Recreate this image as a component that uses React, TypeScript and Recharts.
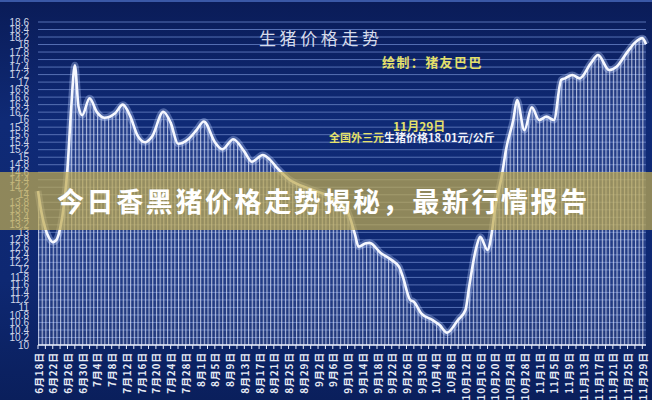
import React from "react";
import {
    ComposedChart,
    Area,
    Line,
    XAxis,
    YAxis,
    CartesianGrid,
} from "recharts";

// day 0 = 6月18日
const days = [
    0, 1, 2, 3, 4, 5, 6, 7, 8, 9, 10, 11, 12, 14, 16, 18, 21, 23, 25, 27, 29, 31, 34, 36, 38,
    41, 43, 45, 48, 50, 53, 56, 58, 61, 63, 65, 68, 74, 79, 84, 86, 87, 89, 90, 93, 96, 98, 99,
    101, 102, 104, 107, 109, 111, 114, 116, 117, 119, 120, 122, 123, 124, 126, 127, 129, 130,
    132, 134, 136, 138, 140, 142, 143, 145, 147, 150, 152, 155, 157, 160, 162, 164, 165,
];
const prices = [
    14.1, 13.5, 13.1, 12.85, 12.74, 12.8, 13.1, 13.7, 14.7, 16.3, 17.45, 16.35, 16.12, 16.57, 16.2,
    16.05, 16.18, 16.4, 16.1, 15.58, 15.4, 15.56, 16.21, 15.92, 15.36, 15.5, 15.72, 15.95, 15.4,
    15.21, 15.48, 15.15, 14.88, 15.06, 14.93, 14.7, 14.42, 14.15, 13.95, 13.55, 12.95, 12.62, 12.71,
    12.72, 12.45, 12.26, 12.08, 11.82, 11.2, 11.15, 10.84, 10.67, 10.53, 10.33, 10.67, 10.93, 11.55,
    12.62, 12.88, 12.53, 12.9, 13.6, 14.58, 15.2, 16.0, 16.52, 15.72, 16.33, 15.99, 16.08, 15.99,
    17.06, 17.1, 17.19, 17.1, 17.5, 17.72, 17.32, 17.41, 17.81, 18.05, 18.17, 18.01,
];
// faint trend line on the right half
const trendDays = [66, 165];
const trendValues = [14.66, 14.94];

const xLabels = [
    "6月18日", "6月22日", "6月26日", "6月30日", "7月4日", "7月8日", "7月12日", "7月16日",
    "7月20日", "7月24日", "7月28日", "8月1日", "8月5日", "8月9日", "8月13日", "8月17日",
    "8月21日", "8月25日", "8月29日", "9月2日", "9月6日", "9月10日", "9月14日", "9月18日",
    "9月22日", "9月26日", "9月30日", "10月4日", "10月8日", "10月12日", "10月16日", "10月20日",
    "10月24日", "10月28日", "11月1日", "11月5日", "11月9日", "11月13日", "11月17日", "11月21日",
    "11月25日", "11月29日",
];
const xTicks = [
    0, 2, 4, 6, 8, 10, 12, 14, 16, 18, 20, 22, 24, 26, 28, 30, 32, 34, 36, 38, 40, 42, 44, 46,
    48, 50, 52, 54, 56, 58, 60, 62, 64, 66, 68, 70, 72, 74, 76, 78, 80, 82, 84, 86, 88, 90, 92,
    94, 96, 98, 100, 102, 104, 106, 108, 110, 112, 114, 116, 118, 120, 122, 124, 126, 128, 130,
    132, 134, 136, 138, 140, 142, 144, 146, 148, 150, 152, 154, 156, 158, 160, 162, 164,
];
const yTicks = [
    10, 10.2, 10.4, 10.6, 10.8, 11, 11.2, 11.4, 11.6, 11.8, 12, 12.2, 12.4, 12.6, 12.8, 13, 13.2,
    13.4, 13.6, 13.8, 14, 14.2, 14.4, 14.6, 14.8, 15, 15.2, 15.4, 15.6, 15.8, 16, 16.2, 16.4, 16.6,
    16.8, 17, 17.2, 17.4, 17.6, 17.8, 18, 18.2, 18.4, 18.6,
];

const data = days.map((d, i) => ({ day: d, price: prices[i] }));
trendDays.forEach((d, i) => {
    const row = data.find((r) => r.day === d);
    if (row) (row as any).trend = trendValues[i];
});

const DAY_W = 608 / 165;
const CJK = '"Noto Sans CJK SC", "Noto Sans", sans-serif';

const XTick = (props: any) => {
    const { x, y, payload } = props;
    const d = payload.value;
    if (d % 4 !== 0) return null;
    const label = xLabels[d / 4];
    return (
        <text
            transform={`translate(${x + 4.5},${y + 1}) rotate(-90)`}
            textAnchor="end"
            fill="#e6eaf4"
            fontSize={10}
            fontWeight="bold"
            letterSpacing={0.8}
            fontFamily={CJK}
        >
            {label}
        </text>
    );
};

const abs = (left: number, top: number): React.CSSProperties => ({
    position: "absolute",
    left,
    top,
    whiteSpace: "nowrap",
    fontFamily: CJK,
    lineHeight: 1,
});

export default function App() {
    return (
        <div
            style={{
                position: "fixed",
                left: 0,
                top: 0,
                width: 652,
                height: 400,
                overflow: "hidden",
                background: "linear-gradient(180deg, #0a1c58 0%, #0f2a76 30%, #0e2872 70%, #0a1f5c 100%)",
                borderTop: "2px solid #3a58a6",
                boxSizing: "border-box",
            }}
        >
            <div style={{ position: "absolute", left: 0, top: -2 }}>
                <ComposedChart
                    width={652}
                    height={400}
                    data={data}
                    margin={{ top: 22, right: 6, left: 0, bottom: 0 }}
                >
                    <defs>
                        <pattern id="vlines" patternUnits="userSpaceOnUse" x={38} y={0} width={DAY_W} height={10}>
                            <rect x={0} y={0} width={DAY_W} height={10} fill="rgba(140,165,235,0.16)" />
                            <rect x={0} y={0} width={1.1} height={10} fill="rgba(235,240,255,0.72)" />
                        </pattern>
                    </defs>
                    <CartesianGrid vertical={false} stroke="#5670b4" strokeWidth={1} />
                    <XAxis
                        dataKey="day"
                        type="number"
                        domain={[0, 165]}
                        ticks={xTicks}
                        interval={0}
                        height={55}
                        tick={<XTick />}
                        tickSize={4}
                        tickMargin={2}
                        stroke="#e8ecf8"
                        axisLine={{ stroke: "#e8ecf8", strokeWidth: 1.5 }}
                        tickLine={{ stroke: "#e8ecf8" }}
                    />
                    <YAxis
                        type="number"
                        domain={[10, 18.6]}
                        ticks={yTicks}
                        interval={0}
                        width={38}
                        axisLine={false}
                        tickLine={false}
                        tickSize={0}
                        tickMargin={9}
                        tickFormatter={(v: number) => String(Number(v.toFixed(1)))}
                        tick={{ fill: "#cfd6e8", fontSize: 10, fontFamily: '"Liberation Sans", Arial, sans-serif' }}
                    />
                    <Area
                        type="monotone"
                        dataKey="price"
                        stroke="none"
                        fill="url(#vlines)"
                        fillOpacity={1}
                        baseValue={10}
                        isAnimationActive={false}
                    />
                    <Line
                        type="linear"
                        dataKey="trend"
                        connectNulls
                        stroke="#b9c8f0"
                        strokeWidth={1.5}
                        dot={false}
                        isAnimationActive={false}
                    />
                    <Line
                        type="monotone"
                        dataKey="price"
                        stroke="rgba(190,208,255,0.35)"
                        strokeWidth={7}
                        dot={false}
                        isAnimationActive={false}
                    />
                    <Line
                        type="monotone"
                        dataKey="price"
                        stroke="#f6f8ff"
                        strokeWidth={2.6}
                        dot={false}
                        isAnimationActive={false}
                    />
                </ComposedChart>
            </div>

            <div style={{ ...abs(259, 27), fontSize: 17, letterSpacing: 3.6, color: "#d6dbea" }}>
                生猪价格走势
            </div>
            <div style={{ ...abs(382, 53), fontSize: 13, fontWeight: "bold", letterSpacing: 1.4, color: "#e4e06a" }}>
                绘制：猪友巴巴
            </div>
            <div style={{ ...abs(393, 118), fontSize: 12, fontWeight: "bold", color: "#e4e06a" }}>
                11月29日
            </div>
            <div style={{ ...abs(329, 130), fontSize: 11, fontWeight: "bold", color: "#f0f2f8" }}>
                <span style={{ color: "#e4e06a" }}>全国外三元</span>生猪价格18.01元/公斤
            </div>

            <div
                style={{
                    position: "absolute",
                    left: 0,
                    top: 170,
                    width: 652,
                    height: 58,
                    background: "rgba(192,172,82,0.72)",
                }}
            >
                <div
                    style={{
                        ...abs(57, 15),
                        fontSize: 27,
                        fontWeight: "bold",
                        letterSpacing: 2.6,
                        color: "#ffffff",
                    }}
                >
                    今日香黑猪价格走势揭秘，最新行情报告
                </div>
            </div>
        </div>
    );
}
